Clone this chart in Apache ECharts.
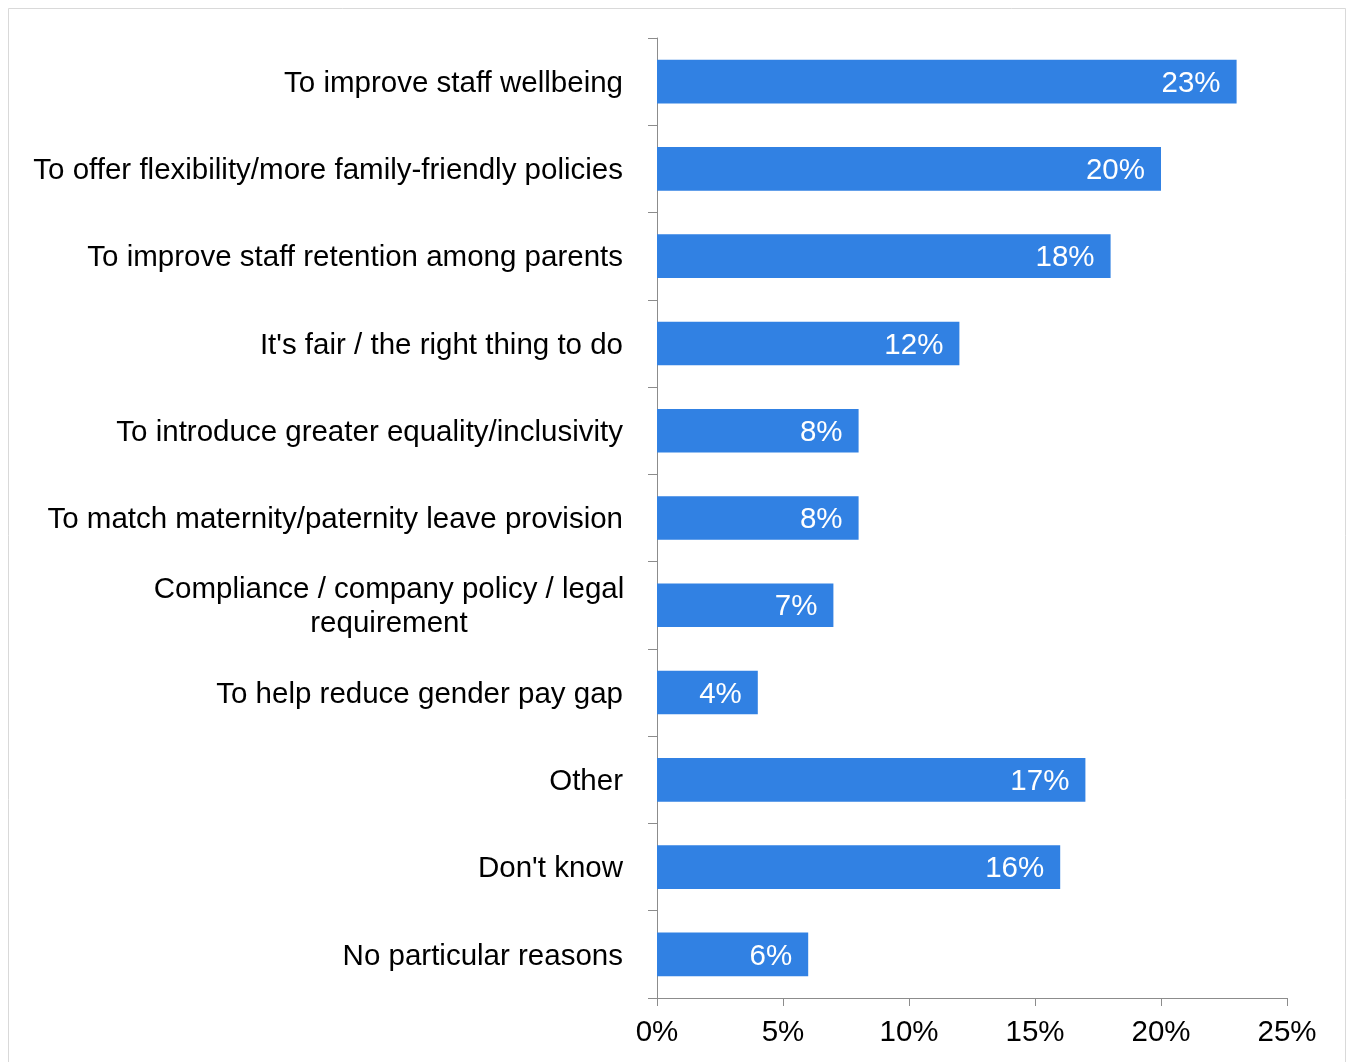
<!DOCTYPE html>
<html>
<head>
<meta charset="utf-8">
<script src="https://cdn.jsdelivr.net/npm/echarts@6/dist/echarts.min.js"></script>
<style>
html,body{margin:0;padding:0;background:#fff;}
#chart{width:1348px;height:1062px;}
</style>
</head>
<body>
<div id="chart"></div>
<script>
const categories = [
  "To improve staff wellbeing",
  "To offer flexibility/more family-friendly policies",
  "To improve staff retention among parents",
  "It's fair / the right thing to do",
  "To introduce greater equality/inclusivity",
  "To match maternity/paternity leave provision",
  "Compliance / company policy / legal\nrequirement",
  "To help reduce gender pay gap",
  "Other",
  "Don't know",
  "No particular reasons"
];
const values = [23, 20, 18, 12, 8, 8, 7, 4, 17, 16, 6];
const xTicks = [0, 5, 10, 15, 20, 25];

const FONT = '"Liberation Sans", Arial, sans-serif';
const FS = 29.5;
const chart = echarts.init(document.getElementById('chart'));
chart.setOption({
  animation: false,
  backgroundColor: '#fff',
  textStyle: { fontFamily: FONT },
  graphic: [{
    type: 'rect',
    shape: { x: 8.5, y: 8.5, width: 1337, height: 1100 },
    style: { fill: 'none', stroke: '#d9d9d9', lineWidth: 1 },
    silent: true
  }],
  grid: { left: 657, right: 61, top: 38, bottom: 64, containLabel: false },
  xAxis: {
    type: 'value',
    min: xTicks[0],
    max: xTicks[xTicks.length - 1],
    interval: 5,
    splitLine: { show: false },
    axisLine: { show: true, lineStyle: { color: '#8c8c8c', width: 1 } },
    axisTick: { show: true, length: 8, lineStyle: { color: '#8c8c8c' } },
    axisLabel: { formatter: '{value}%', color: '#000', fontSize: FS, fontFamily: FONT, margin: 20 }
  },
  yAxis: {
    type: 'category',
    inverse: true,
    data: categories,
    axisLine: { show: true, lineStyle: { color: '#8c8c8c', width: 1 } },
    axisTick: { show: true, length: 9, lineStyle: { color: '#8c8c8c' } },
    axisLabel: {
      color: '#000', fontSize: FS, fontFamily: FONT, margin: 34, lineHeight: 34,
      padding: [4, 0, 0, 0],
      formatter: function (v) {
        if (v.indexOf('\n') >= 0) {
          return v.split('\n').map(s => '{c|' + s + '}').join('\n');
        }
        return v;
      },
      rich: {
        c: { width: 468, align: 'center', fontSize: FS, fontFamily: FONT, color: '#000', lineHeight: 34 }
      }
    }
  },
  series: [{
    type: 'bar',
    data: values,
    barCategoryGap: '50%',
    itemStyle: { color: '#3181e3' },
    label: {
      show: true,
      position: 'insideRight',
      distance: 16,
      offset: [0, 2],
      formatter: '{c}%',
      color: '#fff',
      fontSize: FS,
      fontFamily: FONT
    }
  }]
});
</script>
</body>
</html>
